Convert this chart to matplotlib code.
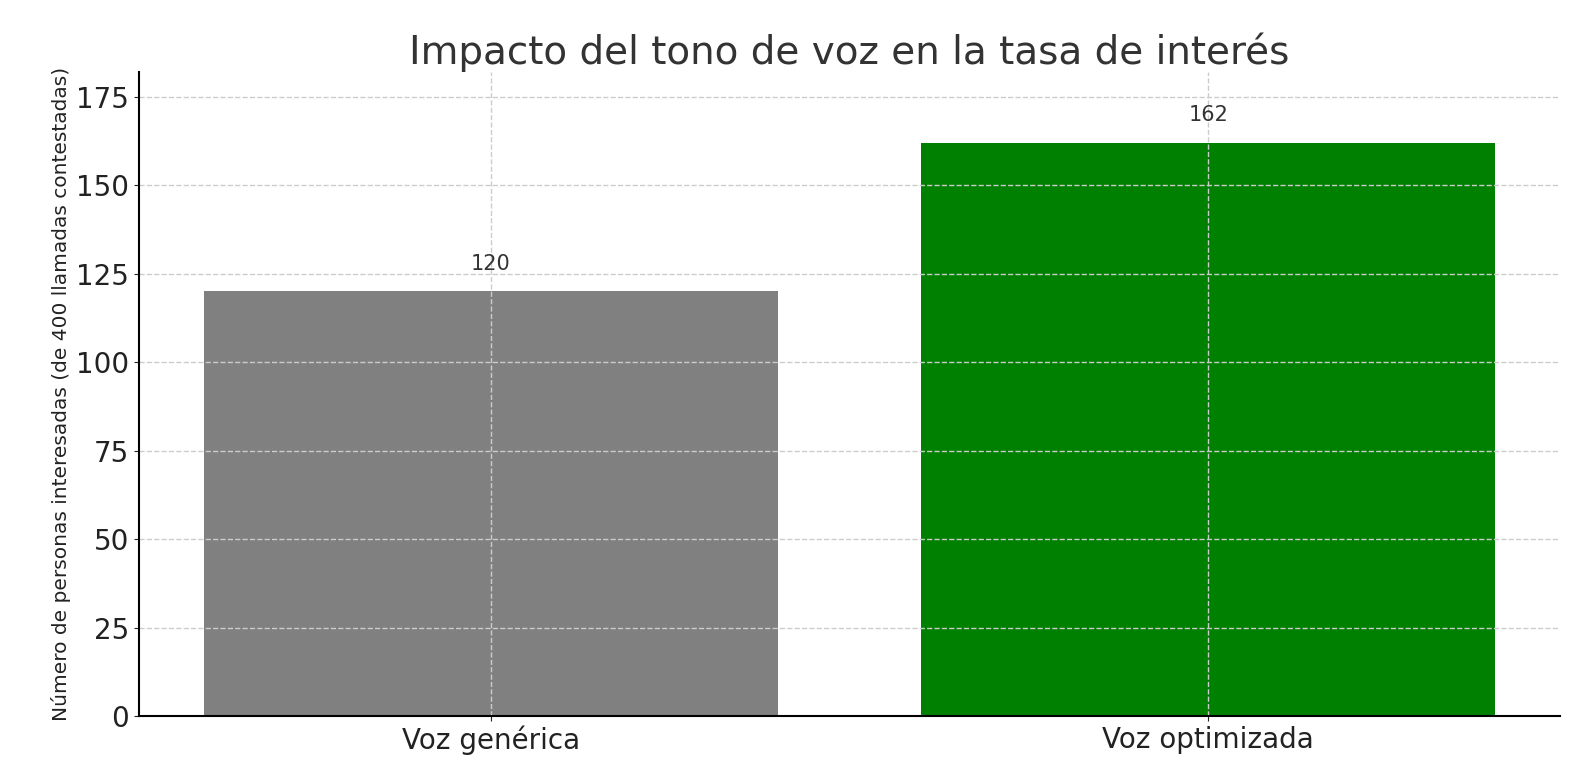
import matplotlib
matplotlib.use("Agg")
import matplotlib.pyplot as plt

categories = ["Voz genérica", "Voz optimizada"]
values = [120, 162]
colors = ["gray", "green"]

fig = plt.figure(figsize=(15.79, 7.8), dpi=100)
ax = fig.add_axes([139/1579, 1-716/780, (1560-139)/1579, (716-72)/780])
bars = ax.bar(categories, values, color=colors, width=0.8)
for b, v in zip(bars, values):
    ax.text(b.get_x()+b.get_width()/2, v+5, str(v), ha="center", va="bottom", fontsize=15, color="#333333")
ax.set_xlim(-0.49, 1.49)
ax.set_ylim(0, 182)
ax.set_yticks(range(0, 176, 25))
ax.grid(True, linestyle="--", color="#cccccc", linewidth=1)
for s in ["top", "right"]:
    ax.spines[s].set_visible(False)
ax.spines["left"].set_linewidth(1.5)
ax.spines["bottom"].set_linewidth(1.5)
ax.tick_params(labelsize=20, colors="#222222")
ax.set_title("Impacto del tono de voz en la tasa de interés", fontsize=28, color="#333333")
ax.set_ylabel("Número de personas interesadas (de 400 llamadas contestadas)", fontsize=14.5, color="#222222")
fig.savefig("out.png", dpi=100)
